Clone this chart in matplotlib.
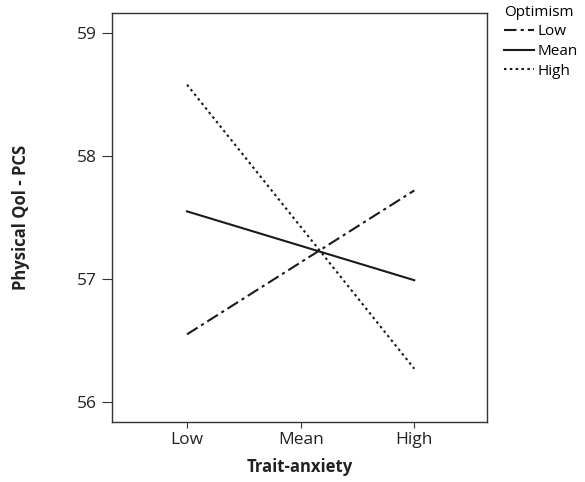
import matplotlib
matplotlib.use("Agg")
import matplotlib.pyplot as plt

x_labels = ["Low", "Mean", "High"]
x_pos = [0, 2]
low_opt = [56.55, 57.72]
mean_opt = [57.55, 56.99]
high_opt = [58.58, 56.27]
y_ticks = [56, 57, 58, 59]

plt.rcParams['font.family'] = ['Open Sans', 'DejaVu Sans']

fig = plt.figure(figsize=(5.85, 4.82), dpi=100)
ax = fig.add_axes([0.1915, 0.1245, 0.641, 0.8485])

c = '#1a1a1a'
ax.plot(x_pos, low_opt, color=c, lw=1.5, linestyle=(0, (6, 2, 1.5, 2)), label='Low')
ax.plot(x_pos, mean_opt, color=c, lw=1.5, linestyle='-', label='Mean')
ax.plot(x_pos, high_opt, color=c, lw=1.5, linestyle=(0, (1.2, 1.6)), label='High')

ax.set_xlim(-0.66, 2.64)
ax.set_ylim(55.837, 59.163)
ax.set_xticks([0, 1, 2])
ax.set_xticklabels(x_labels)
ax.set_yticks(y_ticks)
ax.tick_params(axis='both', labelsize=12.5, color='#333333', labelcolor='#222222')
ax.tick_params(axis='y', length=7, pad=4)
ax.tick_params(axis='x', length=4.5, pad=3)
for s in ax.spines.values():
    s.set_color('#333333')
    s.set_linewidth(1.0)

ax.set_xlabel('Trait-anxiety', fontsize=12, fontweight='bold', labelpad=7, color='#222222')
ax.set_ylabel('Physical Qol - PCS', fontsize=12, fontweight='bold', labelpad=34, color='#222222')

leg = ax.legend(title='Optimism', loc='upper left', bbox_to_anchor=(1.045, 1.02),
                frameon=False, fontsize=11, title_fontsize=11,
                handlelength=2.0, handletextpad=0.2, labelspacing=0.3,
                borderaxespad=0, borderpad=0)
leg._legend_box.align = 'left'

fig.savefig('out.png', dpi=100)
